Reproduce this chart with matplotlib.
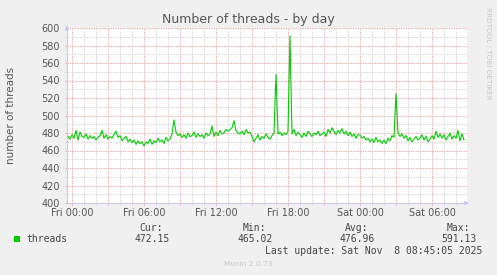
"""Munin-style 'Number of threads - by day' chart."""

import matplotlib
matplotlib.use("Agg")
import matplotlib.pyplot as plt
from matplotlib.patches import Rectangle
import numpy as np

# thread count sampled every 10 minutes, starting Thu 23:40 (hours relative to Fri 00:00)
START_HOUR = -1 / 3
STEP_HOURS = 1 / 6
threads = [
    476, 473,
    478, 474, 483, 472, 481, 476,
    475, 479, 473, 477, 474, 476,
    472, 475, 477, 483, 474, 478,
    473, 476, 474, 478, 482, 475,
    477, 471, 474, 476, 470, 473,
    469, 472, 467, 471, 468, 470,
    465, 470, 468, 473, 467, 471,
    469, 474, 470, 472, 468, 475,
    471, 473, 479, 495, 481, 477,
    479, 475, 478, 474, 480, 476,
    477, 481, 475, 479, 476, 478,
    474, 480, 477, 479, 488, 476,
    481, 477, 483, 479, 480, 484,
    482, 484, 486, 494, 483, 480,
    479, 482, 478, 484, 480, 481,
    476, 470, 474, 478, 472, 476,
    474, 479, 475, 473, 477, 480,
    547, 479, 481, 477, 480, 478,
    482, 591, 479, 484, 477, 481,
    478, 475, 480, 476, 482, 479,
    476, 480, 478, 482, 477, 479,
    481, 476, 484, 480, 486, 482,
    478, 483, 480, 485, 479, 482,
    477, 481, 476, 479, 474, 478,
    478, 474, 476, 472, 474, 470,
    473, 469, 475, 470, 472, 468,
    472, 468, 474, 471, 477, 475,
    525, 480, 476, 479, 474, 477,
    471, 475, 470, 473, 476, 472,
    474, 478, 472, 476, 470, 473,
    477, 473, 482, 475, 479, 474,
    478, 472, 476, 480, 473, 477,
    474, 483, 471, 479, 472.15,
]

tick_hours = [0, 6, 12, 18, 24, 30]
tick_labels = ["Fri 00:00", "Fri 06:00", "Fri 12:00", "Fri 18:00", "Sat 00:00", "Sat 06:00"]
stat_names = ["Cur:", "Min:", "Avg:", "Max:"]
stat_values = ["472.15", "465.02", "476.96", "591.13"]

BG = "#f0f0f0"
GREEN = "#00cc00"
MAJOR = "#eca4a4"
MINOR = "#d2d2d2"
AXIS = "#c6caf4"
TEXT = "#555555"

W, H = 497, 275
fig = plt.figure(figsize=(W / 100, H / 100), dpi=100, facecolor=BG)
ax = fig.add_axes([67 / W, 72 / H, 400 / W, 175 / H])
ax.set_facecolor("white")

t = START_HOUR + np.arange(len(threads)) * STEP_HOURS
ax.plot(t, threads, color=GREEN, lw=0.8, zorder=3)

ax.set_xlim(-5 / 12, 400 / 12 - 5 / 12)
ax.set_ylim(400, 600)
ax.set_xticks(np.arange(0, 33, 3))
ax.set_xticks(np.arange(0, 33, 1), minor=True)
ax.set_yticks(np.arange(400, 601, 20))
ax.set_yticks(np.arange(400, 601, 10), minor=True)

ax.grid(which="major", color=MAJOR, lw=0.72, linestyle=(0, (1.2, 1.2)), zorder=1)
ax.grid(which="minor", color=MINOR, lw=0.72, linestyle=(0, (1.2, 1.2)), zorder=0)

# only label every 6 hours, but keep red ticks every 3
ax.set_xticklabels([tick_labels[tick_hours.index(h)] if h in tick_hours else ""
                    for h in range(0, 33, 3)])
ax.tick_params(which="major", length=1.6, width=0.7, color=MAJOR,
               labelsize=7, labelcolor=TEXT)
ax.tick_params(axis="x", which="major", pad=2.2)
ax.tick_params(axis="y", which="major", pad=3.4)
ax.tick_params(which="minor", length=1.2, width=0.6, color=MINOR)

for s in ("top", "right"):
    ax.spines[s].set_visible(False)
for s in ("left", "bottom"):
    ax.spines[s].set_color(AXIS)
    ax.spines[s].set_linewidth(0.8)

arrow = dict(arrowstyle="-|>", color=AXIS, lw=0.8, mutation_scale=6)
ax.annotate("", xy=(1.012, 0), xytext=(0.99, 0), xycoords="axes fraction",
            arrowprops=arrow, annotation_clip=False)
ax.annotate("", xy=(0, 1.03), xytext=(0, 0.99), xycoords="axes fraction",
            arrowprops=arrow, annotation_clip=False)

fig.text(248.5 / W, 1 - 19 / H, "Number of threads - by day", ha="center",
         va="center", fontsize=9, color=TEXT)
fig.text(11 / W, 1 - 115 / H, "number of threads", rotation=90, ha="center",
         va="center", fontsize=7.5, color=TEXT)
fig.text(488 / W, 1 - 53 / H, "RRDTOOL / TOBI OETIKER", rotation=270,
         ha="center", va="center", fontsize=5.2, color="#c8c8c8")

mono = dict(family="DejaVu Sans Mono", fontsize=7, color="#444444", va="center")
name_right = [163.3, 266, 368.3, 470]
value_right = [169.3, 272.7, 375, 476.7]
for name, value, xn, xv in zip(stat_names, stat_values, name_right, value_right):
    fig.text(xn / W, 1 - 227.7 / H, name, ha="right", **mono)
    fig.text(xv / W, 1 - 239.3 / H, value, ha="right", **mono)
fig.patches.append(Rectangle((14 / W, 1 - 242.3 / H), 6 / W, 6 / H,
                             transform=fig.transFigure, facecolor=GREEN,
                             edgecolor="none"))
fig.text(26.7 / W, 1 - 239.3 / H, "threads", ha="left", **mono)
fig.text(482.3 / W, 1 - 251 / H, "Last update: Sat Nov  8 08:45:05 2025",
         ha="right", **mono)
fig.text(248 / W, 1 - 264 / H, "Munin 2.0.73", ha="center", va="center",
         fontsize=5.3, color="#c8c8c8")

fig.savefig("out.png", dpi=100, facecolor=BG)
